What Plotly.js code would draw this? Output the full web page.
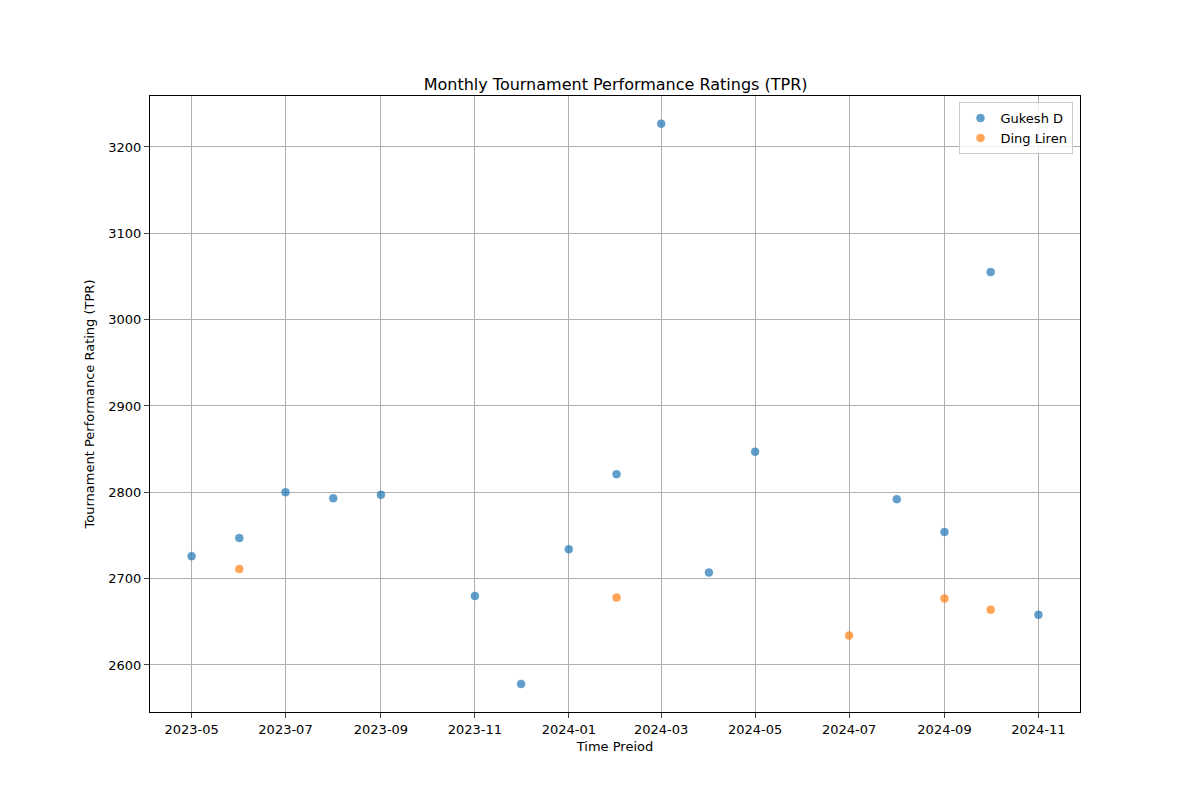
<!DOCTYPE html>
<html>
<head>
<meta charset="utf-8">
<script src="https://cdn.plot.ly/plotly-3.0.1.min.js"></script>
<style>body{margin:0;background:#fff}</style>
</head>
<body>
<div id="chart" style="width:1200px;height:800px"></div>
<script>
var gukeshDates = ['2023-05-01','2023-06-01','2023-07-01','2023-08-01','2023-09-01','2023-11-01','2023-12-01','2024-01-01','2024-02-01','2024-03-01','2024-04-01','2024-05-01','2024-08-01','2024-09-01','2024-10-01','2024-11-01'];
var gukeshTpr = [2726, 2747, 2800, 2793, 2797, 2680, 2578, 2734, 2821, 3227, 2707, 2847, 2792, 2754, 3055, 2658];
var dingDates = ['2023-06-01','2024-02-01','2024-07-01','2024-09-01','2024-10-01'];
var dingTpr = [2711, 2678, 2634, 2677, 2664];

var traces = [
    {x: gukeshDates, y: gukeshTpr, name: 'Gukesh D', mode: 'markers', type: 'scatter',
     marker: {color: '#1f77b4', opacity: 0.7, size: 8, line: {color: '#1f77b4', width: 0.5}}},
    {x: dingDates, y: dingTpr, name: 'Ding Liren', mode: 'markers', type: 'scatter',
     marker: {color: '#ff7f0e', opacity: 0.7, size: 8, line: {color: '#ff7f0e', width: 0.5}}}
];

var layout = {
    width: 1200, height: 800,
    margin: {l: 150, r: 120, t: 96, b: 88},
    paper_bgcolor: '#fff', plot_bgcolor: '#fff',
    font: {family: 'DejaVu Sans', size: 13, color: '#000'},
    title: {text: 'Monthly Tournament Performance Ratings (TPR)', x: 0.513, xanchor: 'center', y: 0.887, yanchor: 'bottom', font: {size: 16}},
    xaxis: {
        title: {text: 'Time Preiod', standoff: 6, font: {size: 13}},
        range: ['2023-04-04', '2024-11-28'],
        tickformat: '%Y-%m', dtick: 'M2', tick0: '2023-05-01',
        showgrid: true, gridcolor: '#b0b0b0', zeroline: false,
        showline: true, mirror: true, linecolor: '#000',
        ticks: 'outside', ticklen: 5
    },
    yaxis: {
        title: {text: 'Tournament Performance Rating (TPR)', standoff: 10, font: {size: 13}},
        range: [2545.5, 3259], dtick: 100,
        showgrid: true, gridcolor: '#b0b0b0', zeroline: false,
        showline: true, mirror: true, linecolor: '#000',
        ticks: 'outside', ticklen: 5
    },
    legend: {x: 0.993, xanchor: 'right', y: 0.99, yanchor: 'top',
             bordercolor: '#ccc', borderwidth: 1, bgcolor: 'rgba(255,255,255,0.8)', font: {size: 13}},
    showlegend: true
};

Plotly.newPlot('chart', traces, layout, {displayModeBar: false});
</script>
</body>
</html>
